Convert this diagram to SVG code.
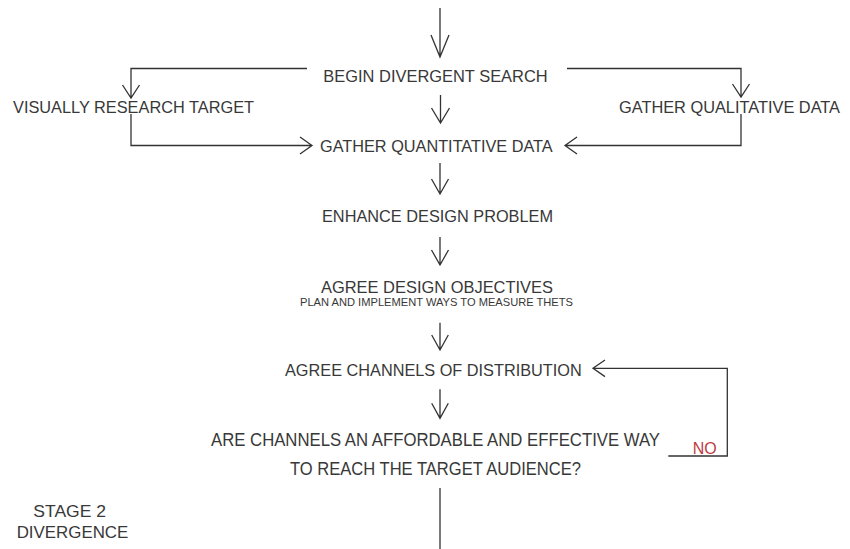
<svg xmlns="http://www.w3.org/2000/svg" width="850" height="549" viewBox="0 0 850 549">
<style>
text{font-family:"Liberation Sans",Arial,sans-serif;fill:#383838;font-size:17px}
.small{font-size:10.5px}
.big{font-size:17.8px}
.no{fill:#c0393f}
.ln{fill:none;stroke:#333;stroke-width:1.3;stroke-linejoin:miter}
</style>
<rect width="850" height="549" fill="#fff"/>
<g id="connectors">
<path class="ln" d="M440,8 V57 M431,35 L440,57 L449,35"/>
<path class="ln" d="M307,68.5 H131 V98 M122.5,85 L131,98 L139.5,85"/>
<path class="ln" d="M567,68.5 H741 V97 M732.5,84 L741,97 L749.5,84"/>
<path class="ln" d="M440.5,95 V123 M431.5,108 L440.5,123 L449.5,108"/>
<path class="ln" d="M131,114 V145.5 H312 M300,137 L312,145.5 L300,154"/>
<path class="ln" d="M741,114 V145.5 H565 M577,137 L565,145.5 L577,154"/>
<path class="ln" d="M440,163 V194 M431.5,179 L440,194 L448.5,179"/>
<path class="ln" d="M440,237 V265 M431.5,250 L440,265 L448.5,250"/>
<path class="ln" d="M440,322.7 V350 M431.7,335 L440,350 L448.3,335"/>
<path class="ln" d="M440,389.3 V418.3 M431.7,403.3 L440,418.3 L448.3,403.3"/>
<path class="ln" d="M668.3,456 H727.3 V368.3 H593 M605,360 L593,368.3 L605,376.6"/>
<path class="ln" d="M440,488 V549"/>
</g>
<g id="begin"><text x="323.3" y="81.7" textLength="224.4" lengthAdjust="spacingAndGlyphs">BEGIN DIVERGENT SEARCH</text></g>
<g id="visual"><text x="13" y="113" textLength="241" lengthAdjust="spacingAndGlyphs">VISUALLY RESEARCH TARGET</text></g>
<g id="qualitative"><text x="619" y="113" textLength="221" lengthAdjust="spacingAndGlyphs">GATHER QUALITATIVE DATA</text></g>
<g id="quantitative"><text x="320" y="152.3" textLength="232.7" lengthAdjust="spacingAndGlyphs">GATHER QUANTITATIVE DATA</text></g>
<g id="enhance"><text x="322" y="222" textLength="231" lengthAdjust="spacingAndGlyphs">ENHANCE DESIGN PROBLEM</text></g>
<g id="objectives">
<text x="321" y="293" textLength="232" lengthAdjust="spacingAndGlyphs">AGREE DESIGN OBJECTIVES</text>
<text class="small" x="300" y="306" textLength="273" lengthAdjust="spacingAndGlyphs">PLAN AND IMPLEMENT WAYS TO MEASURE THETS</text>
</g>
<g id="channels"><text x="285" y="376" textLength="296.7" lengthAdjust="spacingAndGlyphs">AGREE CHANNELS OF DISTRIBUTION</text></g>
<g id="question">
<text class="big" x="211" y="446" textLength="449" lengthAdjust="spacingAndGlyphs">ARE CHANNELS AN AFFORDABLE AND EFFECTIVE WAY</text>
<text class="big" x="290" y="475" textLength="291" lengthAdjust="spacingAndGlyphs">TO REACH THE TARGET AUDIENCE?</text>
</g>
<g id="no-label"><text class="no" x="692.7" y="454" textLength="24" lengthAdjust="spacingAndGlyphs">NO</text></g>
<g id="stage">
<text x="33.3" y="517" textLength="72.7" lengthAdjust="spacingAndGlyphs">STAGE 2</text>
<text x="16.7" y="538.3" textLength="111.6" lengthAdjust="spacingAndGlyphs">DIVERGENCE</text>
</g>
</svg>
